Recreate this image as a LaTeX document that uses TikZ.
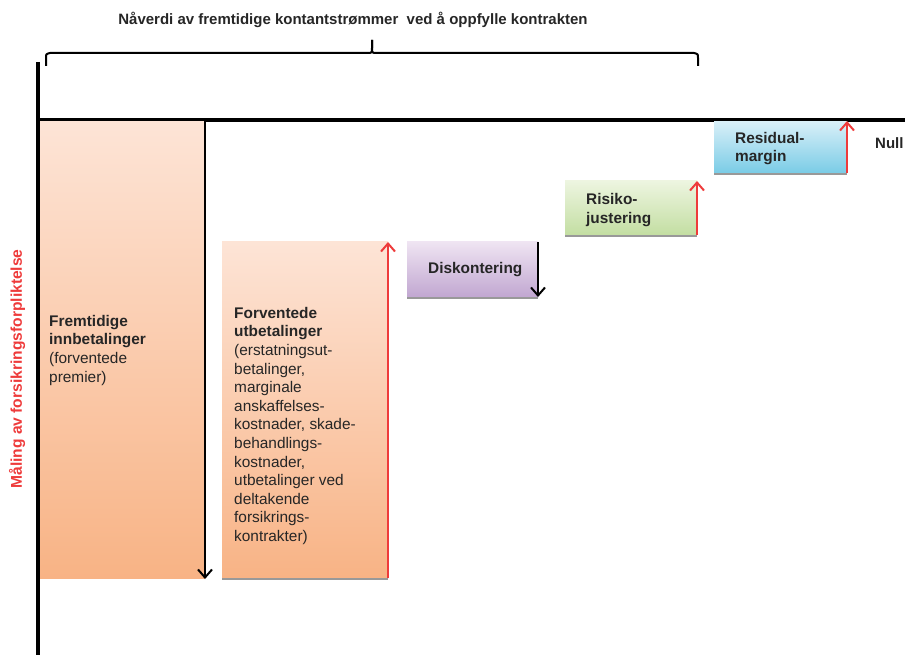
\documentclass[tikz,border=0pt]{standalone}
\usepackage{fontspec}
\setmainfont{Liberation Sans}
\usepackage{tikz}
\usetikzlibrary{arrows.meta,positioning}
\definecolor{peachtop}{HTML}{FDE4D6}
\definecolor{peachbot}{HTML}{F8B385}
\definecolor{lilatop}{HTML}{EFE4F2}
\definecolor{lilabot}{HTML}{C1A7D1}
\definecolor{greentop}{HTML}{EDF5E0}
\definecolor{greenbot}{HTML}{C3DEA2}
\definecolor{bluetop}{HTML}{D8EFF8}
\definecolor{bluebot}{HTML}{7ACCE6}
\definecolor{flowred}{HTML}{EE3B3B}
\definecolor{boxtext}{HTML}{262626}

\begin{document}
\begin{tikzpicture}[x=1pt, y=-1pt,
  box/.style={anchor=north west, inner sep=0pt, outer sep=0pt},
  boxlabel/.style={anchor=north west, inner sep=0pt, align=left, text=boxtext, font=\fontsize{15.4}{18.6}\selectfont},
  flowdown/.style={line width=2pt, -{Straight Barb[length=8pt, width=14pt, line width=2pt]}},
  flowup/.style={line width=2pt, draw=flowred, -{Straight Barb[length=8pt, width=14pt, line width=2pt]}},
  shadowline/.style={line width=2.2pt, draw=black!40}]
\useasboundingbox (0,0) rectangle (905,655);

\coordinate (axis_top) at (38,62);
\coordinate (axis_bot) at (38,655);
\coordinate (zero_left) at (38,120);
\coordinate (zero_right) at (905,120);
\draw [line width=3.2pt] (axis_top) -- (axis_bot);
\draw [line width=3.2pt] (zero_left) -- (zero_right);

\node (fut_in) at (40,122) [box, minimum width=165pt, minimum height=456pt, top color=peachtop, bottom color=peachbot] {};
\node (exp_out) at (222,242) [box, minimum width=166pt, minimum height=336pt, top color=peachtop, bottom color=peachbot] {};
\node (disc_box) at (407,242) [box, minimum width=131pt, minimum height=55pt, top color=lilatop, bottom color=lilabot] {};
\node (risk_box) at (565,181) [box, minimum width=132pt, minimum height=54pt, top color=greentop, bottom color=greenbot] {};
\node (resid_box) at (714,122) [box, minimum width=133pt, minimum height=51pt, top color=bluetop, bottom color=bluebot] {};

\draw [shadowline] ([yshift=-1pt]exp_out.south west) -- ([yshift=-1pt]exp_out.south east);
\draw [shadowline] ([yshift=-1pt]disc_box.south west) -- ([yshift=-1pt]disc_box.south east);
\draw [shadowline] ([yshift=-1pt]risk_box.south west) -- ([yshift=-1pt]risk_box.south east);
\draw [shadowline] ([yshift=-1pt]resid_box.south west) -- ([yshift=-1pt]resid_box.south east);

\node (fut_in_txt) at ([xshift=9pt, yshift=-193pt]fut_in.north west) [boxlabel] {\textbf{Fremtidige}\\\textbf{innbetalinger}\\(forventede\\premier)};
\node (exp_out_txt) at ([xshift=12pt, yshift=-65pt]exp_out.north west) [boxlabel] {\textbf{Forventede}\\\textbf{utbetalinger}\\(erstatningsut-\\betalinger,\\marginale\\anskaffelses-\\kostnader, skade-\\behandlings-\\kostnader,\\utbetalinger ved\\deltakende\\forsikrings-\\kontrakter)};
\node (disc_txt) at ([xshift=21pt]disc_box.west) [boxlabel, anchor=west] {\textbf{Diskontering}};
\node (risk_txt) at ([xshift=21pt, yshift=-2pt]risk_box.west) [boxlabel, anchor=west] {\textbf{Risiko-}\\\textbf{justering}};
\node (resid_txt) at ([xshift=21pt, yshift=-1pt]resid_box.west) [boxlabel, anchor=west] {\textbf{Residual-}\\\textbf{margin}};

\draw [flowdown] ([yshift=2pt]fut_in.north east) -- ([yshift=-1pt]fut_in.south east);
\draw [flowup] (exp_out.south east) -- (exp_out.north east);
\draw [flowdown] (disc_box.north east) -- (disc_box.south east);
\draw [flowup] (risk_box.south east) -- (risk_box.north east);
\draw [flowup] (resid_box.south east) -- ([yshift=1pt]resid_box.north east);

\node (null_lbl) at (875,143) [anchor=west, inner sep=0pt, text=boxtext, font=\fontsize{15}{18}\selectfont\bfseries] {Null};

\coordinate (brace_l) at (46,66);
\coordinate (brace_tip) at (372,40);
\coordinate (brace_r) at (698,66);
\draw [line width=2pt] (brace_l) -- (46,58) .. controls (46,54) .. (50,53) -- (367,53) .. controls (372,53) .. (372,48) -- (brace_tip);
\draw [line width=2pt] (brace_tip) -- (372,48) .. controls (372,53) .. (377,53) -- (694,53) .. controls (698,54) .. (698,58) -- (brace_r);
\node (pv_lbl) at (353,20) [inner sep=0pt, text=boxtext, font=\fontsize{15}{18}\selectfont\bfseries] {Nåverdi av fremtidige kontantstrømmer\ \ ved å oppfylle kontrakten};

\node (meas_lbl) at (17,369) [rotate=90, inner sep=0pt, text=flowred, font=\fontsize{15.6}{18}\selectfont\bfseries] {Måling av forsikringsforpliktelse};
\end{tikzpicture}
\end{document}
